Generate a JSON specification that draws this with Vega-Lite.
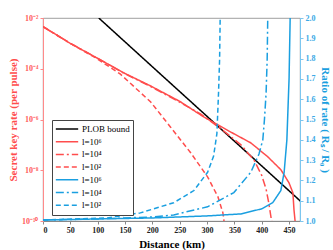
{
  "$schema": "https://vega.github.io/schema/vega-lite/v6.json",
  "width": 257,
  "height": 203,
  "autosize": {"type": "none"},
  "padding": {"left": 43, "top": 18, "right": 33, "bottom": 29},
  "config": {
    "view": {"stroke": "#888", "strokeWidth": 0.8},
    "font": "Liberation Serif",
    "axis": {"labelFont": "Liberation Serif", "titleFont": "Liberation Serif", "grid": false}
  },
  "datasets": {
    "lines": [
      {"series": "PLOB", "d": 102, "v": 1e-2},
      {"series": "PLOB", "d": 200, "v": 1.2e-4},
      {"series": "PLOB", "d": 300, "v": 1.33e-6},
      {"series": "PLOB", "d": 400, "v": 1.48e-8},
      {"series": "PLOB", "d": 472, "v": 5.75e-10},

      {"series": "r6", "d": 0, "v": 4.57e-3},
      {"series": "r6", "d": 50, "v": 1.0e-3},
      {"series": "r6", "d": 105, "v": 2.24e-4},
      {"series": "r6", "d": 150, "v": 6.5e-5},
      {"series": "r6", "d": 197, "v": 2.09e-5},
      {"series": "r6", "d": 250, "v": 5.2e-6},
      {"series": "r6", "d": 294, "v": 1.26e-6},
      {"series": "r6", "d": 340, "v": 3.5e-7},
      {"series": "r6", "d": 380, "v": 1.2e-7},
      {"series": "r6", "d": 411, "v": 3.4e-8},
      {"series": "r6", "d": 435, "v": 1.05e-8},
      {"series": "r6", "d": 450, "v": 3.16e-9},
      {"series": "r6", "d": 457, "v": 1.29e-9},
      {"series": "r6", "d": 459, "v": 2.75e-10},
      {"series": "r6", "d": 461, "v": 1e-10},

      {"series": "r4", "d": 0, "v": 4.57e-3},
      {"series": "r4", "d": 50, "v": 1.0e-3},
      {"series": "r4", "d": 105, "v": 2.24e-4},
      {"series": "r4", "d": 150, "v": 6.3e-5},
      {"series": "r4", "d": 197, "v": 2.0e-5},
      {"series": "r4", "d": 250, "v": 4.8e-6},
      {"series": "r4", "d": 288, "v": 1.66e-6},
      {"series": "r4", "d": 330, "v": 3.6e-7},
      {"series": "r4", "d": 362, "v": 1.0e-7},
      {"series": "r4", "d": 386, "v": 2.5e-8},
      {"series": "r4", "d": 400, "v": 6.3e-9},
      {"series": "r4", "d": 408, "v": 1.8e-9},
      {"series": "r4", "d": 413, "v": 5.0e-10},
      {"series": "r4", "d": 418, "v": 1e-10},

      {"series": "r2", "d": 0, "v": 4.57e-3},
      {"series": "r2", "d": 50, "v": 1.0e-3},
      {"series": "r2", "d": 95, "v": 2.8e-4},
      {"series": "r2", "d": 141, "v": 6.3e-5},
      {"series": "r2", "d": 197, "v": 4.9e-6},
      {"series": "r2", "d": 233, "v": 5.1e-7},
      {"series": "r2", "d": 270, "v": 4.9e-8},
      {"series": "r2", "d": 301, "v": 5.5e-9},
      {"series": "r2", "d": 320, "v": 8.9e-10},
      {"series": "r2", "d": 329, "v": 2.1e-10},
      {"series": "r2", "d": 331, "v": 1e-10},

      {"series": "b6", "d": 0, "v": 1.005},
      {"series": "b6", "d": 100, "v": 1.01},
      {"series": "b6", "d": 200, "v": 1.015},
      {"series": "b6", "d": 300, "v": 1.025},
      {"series": "b6", "d": 362, "v": 1.035},
      {"series": "b6", "d": 400, "v": 1.06},
      {"series": "b6", "d": 420, "v": 1.09},
      {"series": "b6", "d": 435, "v": 1.15},
      {"series": "b6", "d": 441, "v": 1.24},
      {"series": "b6", "d": 446, "v": 1.4},
      {"series": "b6", "d": 450, "v": 1.7},
      {"series": "b6", "d": 452, "v": 2.0},

      {"series": "b4", "d": 0, "v": 1.005},
      {"series": "b4", "d": 100, "v": 1.01},
      {"series": "b4", "d": 200, "v": 1.02},
      {"series": "b4", "d": 239, "v": 1.03},
      {"series": "b4", "d": 301, "v": 1.07},
      {"series": "b4", "d": 349, "v": 1.14},
      {"series": "b4", "d": 380, "v": 1.24},
      {"series": "b4", "d": 395, "v": 1.33},
      {"series": "b4", "d": 402, "v": 1.4},
      {"series": "b4", "d": 405, "v": 1.5},
      {"series": "b4", "d": 408, "v": 1.63},
      {"series": "b4", "d": 410, "v": 1.8},
      {"series": "b4", "d": 411, "v": 2.0},

      {"series": "b2", "d": 0, "v": 1.005},
      {"series": "b2", "d": 118, "v": 1.015},
      {"series": "b2", "d": 178, "v": 1.04},
      {"series": "b2", "d": 239, "v": 1.09},
      {"series": "b2", "d": 276, "v": 1.15},
      {"series": "b2", "d": 301, "v": 1.24},
      {"series": "b2", "d": 312, "v": 1.32},
      {"series": "b2", "d": 318, "v": 1.43},
      {"series": "b2", "d": 321, "v": 1.63},
      {"series": "b2", "d": 323, "v": 1.8},
      {"series": "b2", "d": 324, "v": 2.0}
    ]
  },
  "data": {"name": "lines"},
  "encoding": {
    "x": {
      "field": "d", "type": "quantitative",
      "scale": {"domain": [0, 470], "nice": false},
      "axis": {
        "values": [0, 50, 100, 150, 200, 250, 300, 350, 400, 450],
        "title": "Distance (km)", "titleFontSize": 11, "titleFontWeight": "bold", "titlePadding": 4,
        "labelFontSize": 8, "labelFontWeight": "bold", "labelColor": "#222",
        "domainColor": "#888", "tickColor": "#888", "tickSize": 3, "labelPadding": 2
      }
    }
  },
  "layer": [
    {
      "transform": [{"filter": "datum.series == 'PLOB' || datum.series[0] == 'r'"}],
      "mark": {"type": "line", "strokeWidth": 1.5, "clip": true},
      "encoding": {
        "y": {
          "field": "v", "type": "quantitative",
          "scale": {"type": "log", "domain": [1e-10, 1e-2], "nice": false},
          "axis": {
            "orient": "left",
            "values": [1e-10, 1e-8, 1e-6, 1e-4, 1e-2],
            "labelExpr": "datum.value < 1e-9 ? '10⁻¹⁰' : datum.value < 1e-7 ? '10⁻⁸' : datum.value < 1e-5 ? '10⁻⁶' : datum.value < 1e-3 ? '10⁻⁴' : '10⁻²'",
            "title": "Secret key rate (per pulse)", "titleColor": "#ff4d4d", "titleFontSize": 11, "titleFontWeight": "bold", "titlePadding": 3,
            "labelColor": "#ff5c5c", "labelFontSize": 8, "labelFontWeight": "bold",
            "domainColor": "#ff8a8a", "tickColor": "#ff8a8a", "tickSize": 3, "labelPadding": 2
          }
        },
        "color": {
          "field": "series", "type": "nominal",
          "scale": {"domain": ["PLOB", "r6", "r4", "r2", "b6", "b4", "b2"], "range": ["#000000", "#ff4d4d", "#ff4d4d", "#ff4d4d", "#1a9fe0", "#1a9fe0", "#1a9fe0"]},
          "legend": {
            "orient": "none", "legendX": 9, "legendY": 102,
            "title": null, "symbolType": "stroke", "symbolSize": 500, "symbolStrokeWidth": 1.5,
            "clipHeight": 12,
            "labelFont": "Liberation Serif", "labelFontSize": 9, "labelColor": "#000", "labelOffset": 3,
            "rowPadding": 0.7, "padding": 3, "strokeColor": "#444", "fillColor": "#ffffff",
            "labelExpr": "datum.label == 'PLOB' ? 'PLOB bound' : (substring(datum.label,1) == '6' ? 'l=10⁶' : substring(datum.label,1) == '4' ? 'l=10⁴' : 'l=10²')"
          }
        },
        "strokeDash": {
          "field": "series", "type": "nominal",
          "scale": {"domain": ["PLOB", "r6", "r4", "r2", "b6", "b4", "b2"], "range": [[1, 0], [1, 0], [8, 3, 2, 3], [5, 3], [1, 0], [8, 3, 2, 3], [5, 3]]}
        }
      }
    },
    {
      "transform": [{"filter": "datum.series[0] == 'b'"}],
      "mark": {"type": "line", "strokeWidth": 1.5, "clip": true},
      "encoding": {
        "y": {
          "field": "v", "type": "quantitative",
          "scale": {"domain": [1, 2], "nice": false},
          "axis": {
            "orient": "right",
            "values": [1, 1.1, 1.2, 1.3, 1.4, 1.5, 1.6, 1.7, 1.8, 1.9, 2],
            "title": "Ratio of rate ( Rₛ / R₀ )", "titleColor": "#1a9fe0", "titleFontSize": 11, "titleFontWeight": "bold", "titlePadding": 4,
            "labelColor": "#3aa9e6", "labelFontSize": 8, "labelFontWeight": "bold",
            "domainColor": "#7cc6ef", "tickColor": "#7cc6ef", "tickSize": 3, "labelPadding": 2
          }
        },
        "color": {
          "field": "series", "type": "nominal",
          "scale": {"domain": ["PLOB", "r6", "r4", "r2", "b6", "b4", "b2"], "range": ["#000000", "#ff4d4d", "#ff4d4d", "#ff4d4d", "#1a9fe0", "#1a9fe0", "#1a9fe0"]}
        },
        "strokeDash": {
          "field": "series", "type": "nominal",
          "scale": {"domain": ["PLOB", "r6", "r4", "r2", "b6", "b4", "b2"], "range": [[1, 0], [1, 0], [8, 3, 2, 3], [5, 3], [1, 0], [8, 3, 2, 3], [5, 3]]}
        }
      }
    }
  ],
  "resolve": {"scale": {"y": "independent"}}
}
